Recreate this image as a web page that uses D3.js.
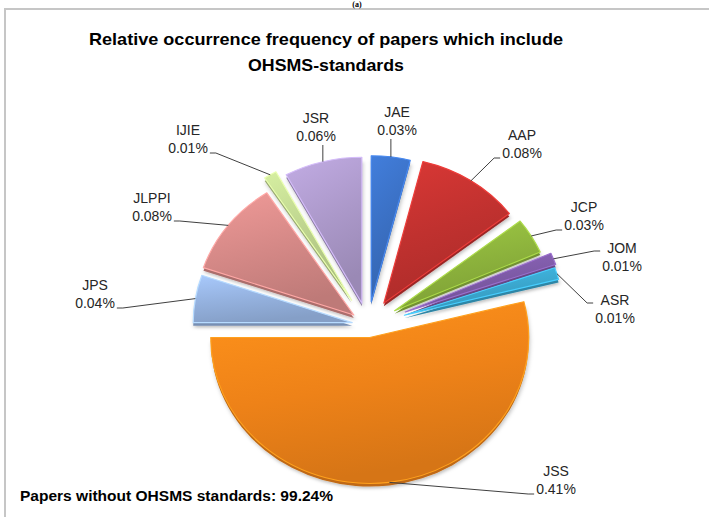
<!DOCTYPE html>
<html>
<head>
<meta charset="utf-8">
<script src="https://cdn.jsdelivr.net/npm/d3@7"></script>
<style>
  body { margin: 0; background: #fff; }
  svg { display: block; font-family: "Liberation Sans", Arial, sans-serif; }
</style>
</head>
<body>
<script>
// journals in clockwise order from 12 o'clock, share of papers (%) that include OHSMS standards
const journals = ["JAE", "AAP", "JCP", "JOM", "ASR", "JSS", "JPS", "JLPPI", "IJIE", "JSR"];
const shares = [0.03, 0.08, 0.03, 0.01, 0.01, 0.41, 0.04, 0.08, 0.01, 0.06];
const sliceColors = ["#3a6fc2", "#c0312f", "#8cb23c", "#7d5aa6", "#3aa6cd",
                     "#ee8218", "#94b1de", "#d48886", "#bdd38e", "#ab98c9"];
const noStandardShare = 99.24;
const titleLines = ["Relative occurrence frequency of papers which include", "OHSMS-standards"];

const w = 709, h = 517;
const cx = 368, cy = 325, rx = 159, ry = 146;
const depth = 3;

// layout: how far each slice is pulled out, where its label sits
const explode = [26, 29, 31, 40, 38, 14, 16, 18, 32, 25];
const labelPos = [[397, 117], [522, 140], [584, 212], [622, 253], [615, 305],
                  [556, 476], [95, 290], [152, 203], [188, 135], [316, 123]];
const hookOnFirstLine = [0, 0, 0, 1, 1, 0, 0, 0, 0, 0];

const svg = d3.select('body').append('svg')
  .attr('width', w)
  .attr('height', h);

const defs = svg.append('defs');

const shadow = defs.append('filter').attr('id', 'shadow')
  .attr('x', '-20%').attr('y', '-20%').attr('width', '140%').attr('height', '140%');
shadow.append('feDropShadow')
  .attr('dx', 1).attr('dy', 2).attr('stdDeviation', 2)
  .attr('flood-color', '#000').attr('flood-opacity', 0.25);

sliceColors.forEach((c, i) => {
  const g = defs.append('linearGradient').attr('id', 'grad' + i)
    .attr('x1', 0).attr('y1', 0).attr('x2', 0.3).attr('y2', 1);
  g.append('stop').attr('offset', '0%').attr('stop-color', d3.color(c).brighter(0.35));
  g.append('stop').attr('offset', '55%').attr('stop-color', c);
  g.append('stop').attr('offset', '100%').attr('stop-color', d3.color(c).darker(0.3));
});

// frame (only top and left edge are visible in the figure)
svg.append('path')
  .attr('d', `M5,${h} L5,9 L${w},9`)
  .attr('fill', 'none')
  .attr('stroke', '#c6c6c6')
  .attr('stroke-width', 2);

svg.append('text')
  .attr('x', 357).attr('y', 7)
  .attr('text-anchor', 'middle')
  .style('font-family', '"Liberation Serif", serif')
  .style('font-size', '8px')
  .style('font-weight', 'bold')
  .text('(a)');

svg.append('text')
  .attr('x', 326).attr('y', 45)
  .attr('text-anchor', 'middle')
  .attr('textLength', 474).attr('lengthAdjust', 'spacingAndGlyphs')
  .style('font-size', '17px').style('font-weight', 'bold')
  .text(titleLines[0]);

svg.append('text')
  .attr('x', 326).attr('y', 71)
  .attr('text-anchor', 'middle')
  .attr('textLength', 156).attr('lengthAdjust', 'spacingAndGlyphs')
  .style('font-size', '17px').style('font-weight', 'bold')
  .text(titleLines[1]);

const pie = d3.pie().sort(null).value(d => d);
const arcs = pie(shares);
const arc = d3.arc().innerRadius(0).outerRadius(rx);

const slices = arcs.map((a, i) => {
  const m = (a.startAngle + a.endAngle) / 2;
  const e = explode[i];
  const ax = cx + e * Math.sin(m);
  const ay = cy - 0.9 * e * Math.cos(m);
  return {
    a: a, i: i, m: m, ax: ax, ay: ay,
    px: ax + rx * Math.sin(m),
    py: ay - ry * Math.cos(m)
  };
});

// side walls first so that every top face covers them
svg.append('g').selectAll('path.side')
  .data(slices)
  .enter()
  .append('path')
  .attr('class', 'side')
  .attr('transform', d => `translate(${d.ax},${d.ay + depth}) scale(1,${ry / rx})`)
  .attr('d', d => arc(d.a))
  .attr('fill', d => d3.color(sliceColors[d.i]).darker(0.6))
  .attr('filter', 'url(#shadow)');

svg.append('g').selectAll('path.top')
  .data(slices)
  .enter()
  .append('path')
  .attr('class', 'top')
  .attr('transform', d => `translate(${d.ax},${d.ay}) scale(1,${ry / rx})`)
  .attr('d', d => arc(d.a))
  .attr('fill', d => `url(#grad${d.i})`)
  .attr('stroke', d => d3.color(sliceColors[d.i]).brighter(0.6))
  .attr('stroke-width', 1.2)
  .attr('stroke-linejoin', 'round');

// labels and leader lines
const lbl = svg.append('g');
slices.forEach(d => {
  const [lx, ly] = labelPos[d.i];
  const t = lbl.append('text')
    .attr('text-anchor', 'middle')
    .style('font-size', '14px')
    .style('fill', '#262626');
  t.append('tspan').attr('x', lx).attr('y', ly).text(journals[d.i]);
  t.append('tspan').attr('x', lx).attr('y', ly + 18).text(shares[d.i].toFixed(2) + '%');
  const bb = t.node().getBBox();

  let pts;
  if (Math.abs(d.px - lx) < 20) {
    const yEnd = d.py < ly ? bb.y - 1 : bb.y + bb.height + 1;
    pts = [[d.px, yEnd], [d.px, d.py]];
  } else {
    const hy = hookOnFirstLine[d.i] ? ly - 2 : ly + 18;
    const right = d.px > lx;
    const hx = right ? bb.x + bb.width + 2 : bb.x - 2;
    const ex = right ? hx + 6 : hx - 6;
    pts = [[hx, hy], [ex, hy], [d.px, d.py]];
  }
  lbl.append('path')
    .attr('d', d3.line()(pts))
    .attr('fill', 'none')
    .attr('stroke', '#404040')
    .attr('stroke-width', 1);
});

svg.append('text')
  .attr('x', 20).attr('y', 501)
  .attr('textLength', 313).attr('lengthAdjust', 'spacingAndGlyphs')
  .style('font-size', '14.5px').style('font-weight', 'bold')
  .text('Papers without OHSMS standards: ' + noStandardShare.toFixed(2) + '%');
</script>
</body>
</html>
